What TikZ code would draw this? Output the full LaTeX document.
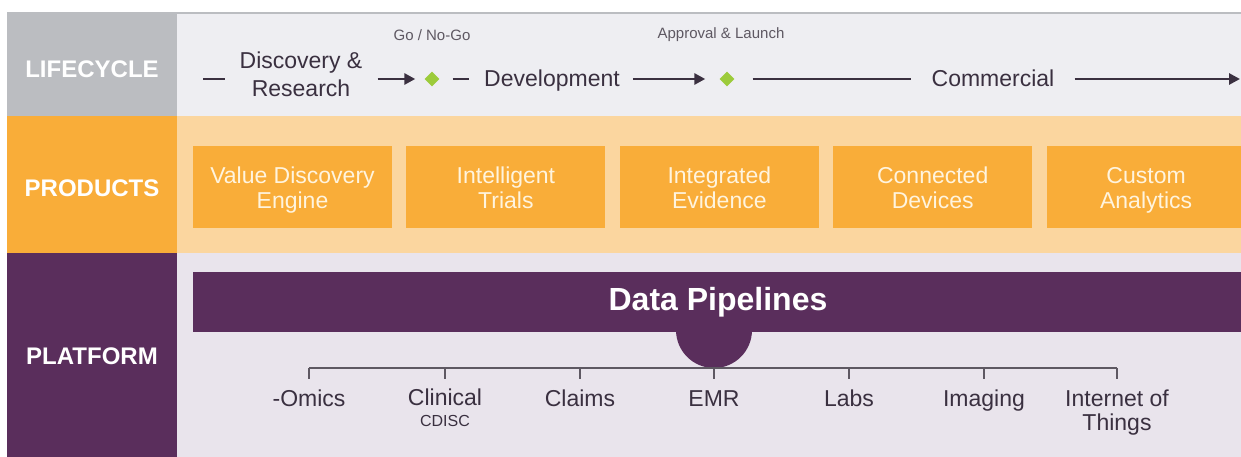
\documentclass[tikz,border=0pt]{standalone}
\usepackage{fontspec}
\setmainfont{Liberation Sans}
\usepackage{tikz}
\usetikzlibrary{arrows.meta,positioning,shapes.geometric}
\definecolor{lifegray}{HTML}{BBBDC1}
\definecolor{lifelight}{HTML}{EEEEF2}
\definecolor{prodorange}{HTML}{F9AD39}
\definecolor{prodlight}{HTML}{FBD69F}
\definecolor{prodtext}{HTML}{FFF4DE}
\definecolor{platpurple}{HTML}{5A2E5C}
\definecolor{platlight}{HTML}{E9E4EC}
\definecolor{inkdark}{HTML}{3A3040}
\definecolor{inkgray}{HTML}{5E5862}
\definecolor{gategreen}{HTML}{9CCB3B}

\begin{document}
\begin{tikzpicture}[x=1pt,y=-1pt,>={Triangle[length=11pt,width=11pt]}]

\tikzset{
rowlabel/.style={
    text=white,
    font=\fontsize{24}{28}\selectfont\bfseries,
    inner sep=0pt
},
stage/.style={
    text=inkdark,
    font=\fontsize{23}{28}\selectfont,
    align=center,
    anchor=base,
    inner sep=0pt
},
gate/.style={
    diamond,
    fill=gategreen,
    minimum size=15pt,
    inner sep=0pt
},
gatelabel/.style={
    text=inkgray,
    font=\fontsize{15}{18}\selectfont,
    inner sep=0pt
},
product/.style={
    fill=prodorange,
    minimum width=199pt,
    minimum height=82pt,
    text height=46pt,
    text depth=4pt,
    text=prodtext,
    align=center,
    font=\fontsize{23}{25}\selectfont,
    inner sep=0pt
},
pipeline/.style={
    fill=platpurple,
    minimum width=1050pt,
    minimum height=60pt,
    text=white,
    font=\fontsize{32}{36}\selectfont\bfseries,
    inner sep=0pt
},
source/.style={
    text=inkdark,
    font=\fontsize{23}{24}\selectfont,
    align=center,
    anchor=base,
    inner sep=0pt
},
life/.style={line width=2.8pt,color=inkdark},
bracket/.style={line width=2.8pt,color=inkgray}
}

\useasboundingbox (0,0) rectangle (1241,457);
\fill[white] (0,0) rectangle (1241,457);

\fill[lifelight] (176,13) rectangle (1241,116);
\draw[lifegray,line width=2pt] (176,13) -- (1241,13);
\fill[lifegray] (7,12) rectangle (177,116);
\fill[prodlight] (176,116) rectangle (1241,253);
\fill[prodorange] (7,116) rectangle (177,253);
\fill[platlight] (176,253) rectangle (1241,457);
\fill[platpurple] (7,253) rectangle (177,457);

\node[rowlabel] (lifecycle) at (92,69) {LIFECYCLE};
\node[rowlabel] (products) at (92,188) {PRODUCTS};
\node[rowlabel] (platform) at (92,356) {PLATFORM};

% lifecycle timeline
\node[stage] (discovery) at (301,97) {Discovery \&\\Research};
\node[gate] (gonogo) at (432,79) {};
\node[stage] (development) at (552,87) {Development};
\node[gate] (approval) at (727,79) {};
\node[stage] (commercial) at (993,87) {Commercial};
\coordinate (lead) at (203,79);
\coordinate (tail) at (1240,79);

\node[gatelabel] (golabel) at (432,35) {Go / No-Go};
\node[gatelabel] (launchlabel) at (721,35) {Approval \& Launch};

\draw[life] (lead) -- ([xshift=-14pt]discovery.west |- gonogo);
\draw[life,->,shorten <=15pt,shorten >=9pt] (discovery.east |- gonogo) -- (gonogo);
\draw[life,shorten <=13pt,shorten >=15pt] (gonogo) -- (development.west |- gonogo);
\draw[life,->,shorten <=13pt,shorten >=14pt] (development.east |- approval) -- (approval);
\draw[life,shorten <=18pt,shorten >=20pt] (approval) -- (commercial.west |- approval);
\draw[life,->,shorten <=20pt] (commercial.east |- tail) -- (tail);

% product boxes
\node[product] (valueengine) at (292.5,187) {Value Discovery\\Engine};
\node[product, right=14pt of valueengine] (trials) {Intelligent\\Trials};
\node[product, right=14pt of trials] (evidence) {Integrated\\Evidence};
\node[product, right=14pt of evidence] (devices) {Connected\\Devices};
\node[product, right=14pt of devices] (analytics) {Custom\\Analytics};

% platform
\node[pipeline] (pipes) at (718,302) {Data Pipelines};
\fill[platpurple] (676,330) arc[start angle=180,end angle=0,radius=38] -- cycle;

\node[source] (omics) at (309,406) {-Omics};
\node[source] (clinical) at (445,426) {Clinical\\[-3pt]{\fontsize{16}{18}\selectfont CDISC}};
\node[source] (claims) at (580,406) {Claims};
\node[source] (emr) at (714,406) {EMR};
\node[source] (labs) at (849,406) {Labs};
\node[source] (imaging) at (984,406) {Imaging};
\node[source] (iot) at (1117,430) {Internet of\\Things};
\coordinate (trunk) at (714,368);

\draw[bracket] (omics.north |- trunk) -- (iot.north |- trunk);
\draw[bracket] (omics.north |- trunk) -- ++(0,11);
\draw[bracket] (clinical.north |- trunk) -- ++(0,11);
\draw[bracket] (claims.north |- trunk) -- ++(0,11);
\draw[bracket] (emr.north |- trunk) -- ++(0,11);
\draw[bracket] (labs.north |- trunk) -- ++(0,11);
\draw[bracket] (imaging.north |- trunk) -- ++(0,11);
\draw[bracket] (iot.north |- trunk) -- ++(0,11);

\end{tikzpicture}
\end{document}
